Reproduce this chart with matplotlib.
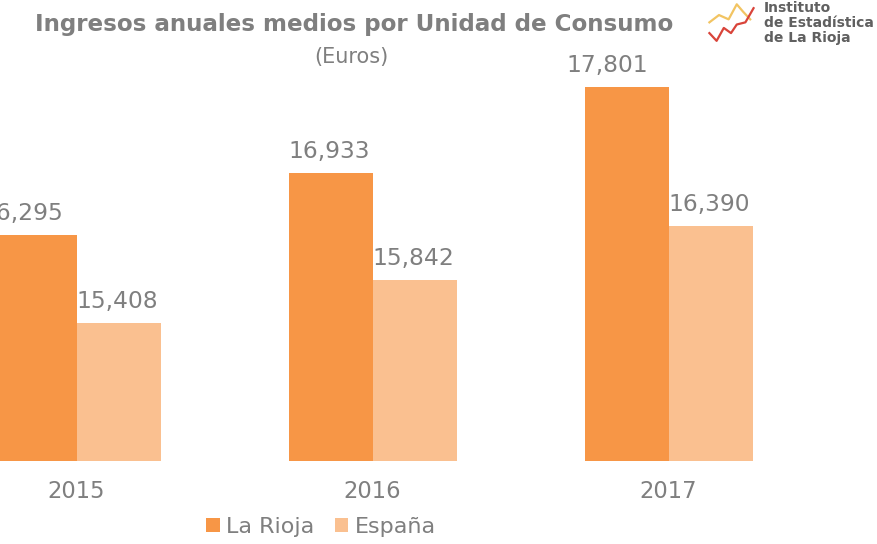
import matplotlib.pyplot as plt
from matplotlib.patches import Patch

# chart data
YEARS = ['2015', '2016', '2017']
SERIES = ['La Rioja', 'España']
LA_RIOJA = [16295, 16933, 17801]
ESPANA = [15408, 15842, 16390]
COLORS = ['#F79646', '#FAC090']
TEXT_GREY = '#7F7F7F'

# logo decoration points
LOGO_GOLD = [(0.05, 0.55), (0.25, 0.72), (0.45, 0.62), (0.62, 0.97), (0.75, 0.8), (0.9, 0.62)]
LOGO_RED = [(0.05, 0.3), (0.2, 0.12), (0.35, 0.42), (0.5, 0.3), (0.62, 0.5), (0.8, 0.55), (0.97, 0.88)]

plt.rcParams['font.family'] = ['DejaVu Sans']

W, H = 878, 544
fig = plt.figure(figsize=(W / 100, H / 100), dpi=100)
PT = 72 / 100  # points per pixel

# axes spans whole width, bottom at the bars baseline
bottom_px = 461
ax = fig.add_axes([0, 1 - bottom_px / H, 1, bottom_px / H])
group_px = 296
ax.set_xlim(-77 / group_px, (W - 77) / group_px)
px_per_unit = 0.0983
ax.set_ylim(14000, 14000 + bottom_px / px_per_unit)
ax.axis('off')

# horizontal nudges (px) of the value labels, as placed in the original
label_dx = [[-13, -1.5, -20], [-1.5, -1.5, -1.5]]

bw = 84 / group_px
xs = range(len(YEARS))
for i, (vals, col) in enumerate(zip([LA_RIOJA, ESPANA], COLORS)):
    xpos = [x - bw / 2 + i * bw for x in xs]
    ax.bar(xpos, [v - 14000 for v in vals], bottom=14000, width=bw, color=col)
    for j, (x, v) in enumerate(zip(xpos, vals)):
        ax.annotate(f'{v:,}', (x, v), xytext=(label_dx[i][j] * PT, 15 * PT),
                    textcoords='offset points', ha='center', va='baseline',
                    fontsize=16.8, color=TEXT_GREY)

for x, yr in zip(xs, YEARS):
    ax.annotate(yr, (x, 14000), xytext=(-1 * PT, -31 * PT), textcoords='offset points',
                ha='center', va='center', fontsize=16.3, color=TEXT_GREY,
                annotation_clip=False)

# title
fig.text(354 / W, 1 - 25 / H, 'Ingresos anuales medios por Unidad de Consumo',
         ha='center', va='center', fontsize=16.6, fontweight='bold', color=TEXT_GREY)
fig.text(351 / W, 1 - 57 / H, '(Euros)', ha='center', va='center',
         fontsize=15, color=TEXT_GREY)

# logo
lax = fig.add_axes([707 / W, 1 - 46 / H, 48 / W, 43 / H])
lax.plot(*zip(*LOGO_GOLD), color='#F2C462', lw=1.6)
lax.plot(*zip(*LOGO_RED), color='#D9443A', lw=1.6)
lax.set_xlim(0, 1)
lax.set_ylim(0, 1)
lax.axis('off')
for k, line in enumerate(['Instituto', 'de Estadística', 'de La Rioja']):
    fig.text(764 / W, 1 - (8 + 15 * k) / H, line, ha='left', va='center',
             fontsize=10, fontweight='bold', color='#606060')

# legend
handles = [Patch(facecolor=c, label=s) for c, s in zip(COLORS, SERIES)]
fig.legend(handles=handles, loc='center', bbox_to_anchor=(321 / W, 1 - 527 / H),
           ncol=2, frameon=False, fontsize=16, handlelength=0.6, handleheight=0.6,
           handletextpad=0.3, columnspacing=0.9, labelcolor=TEXT_GREY,
           borderpad=0, borderaxespad=0)

fig.savefig('out.png', dpi=100)
